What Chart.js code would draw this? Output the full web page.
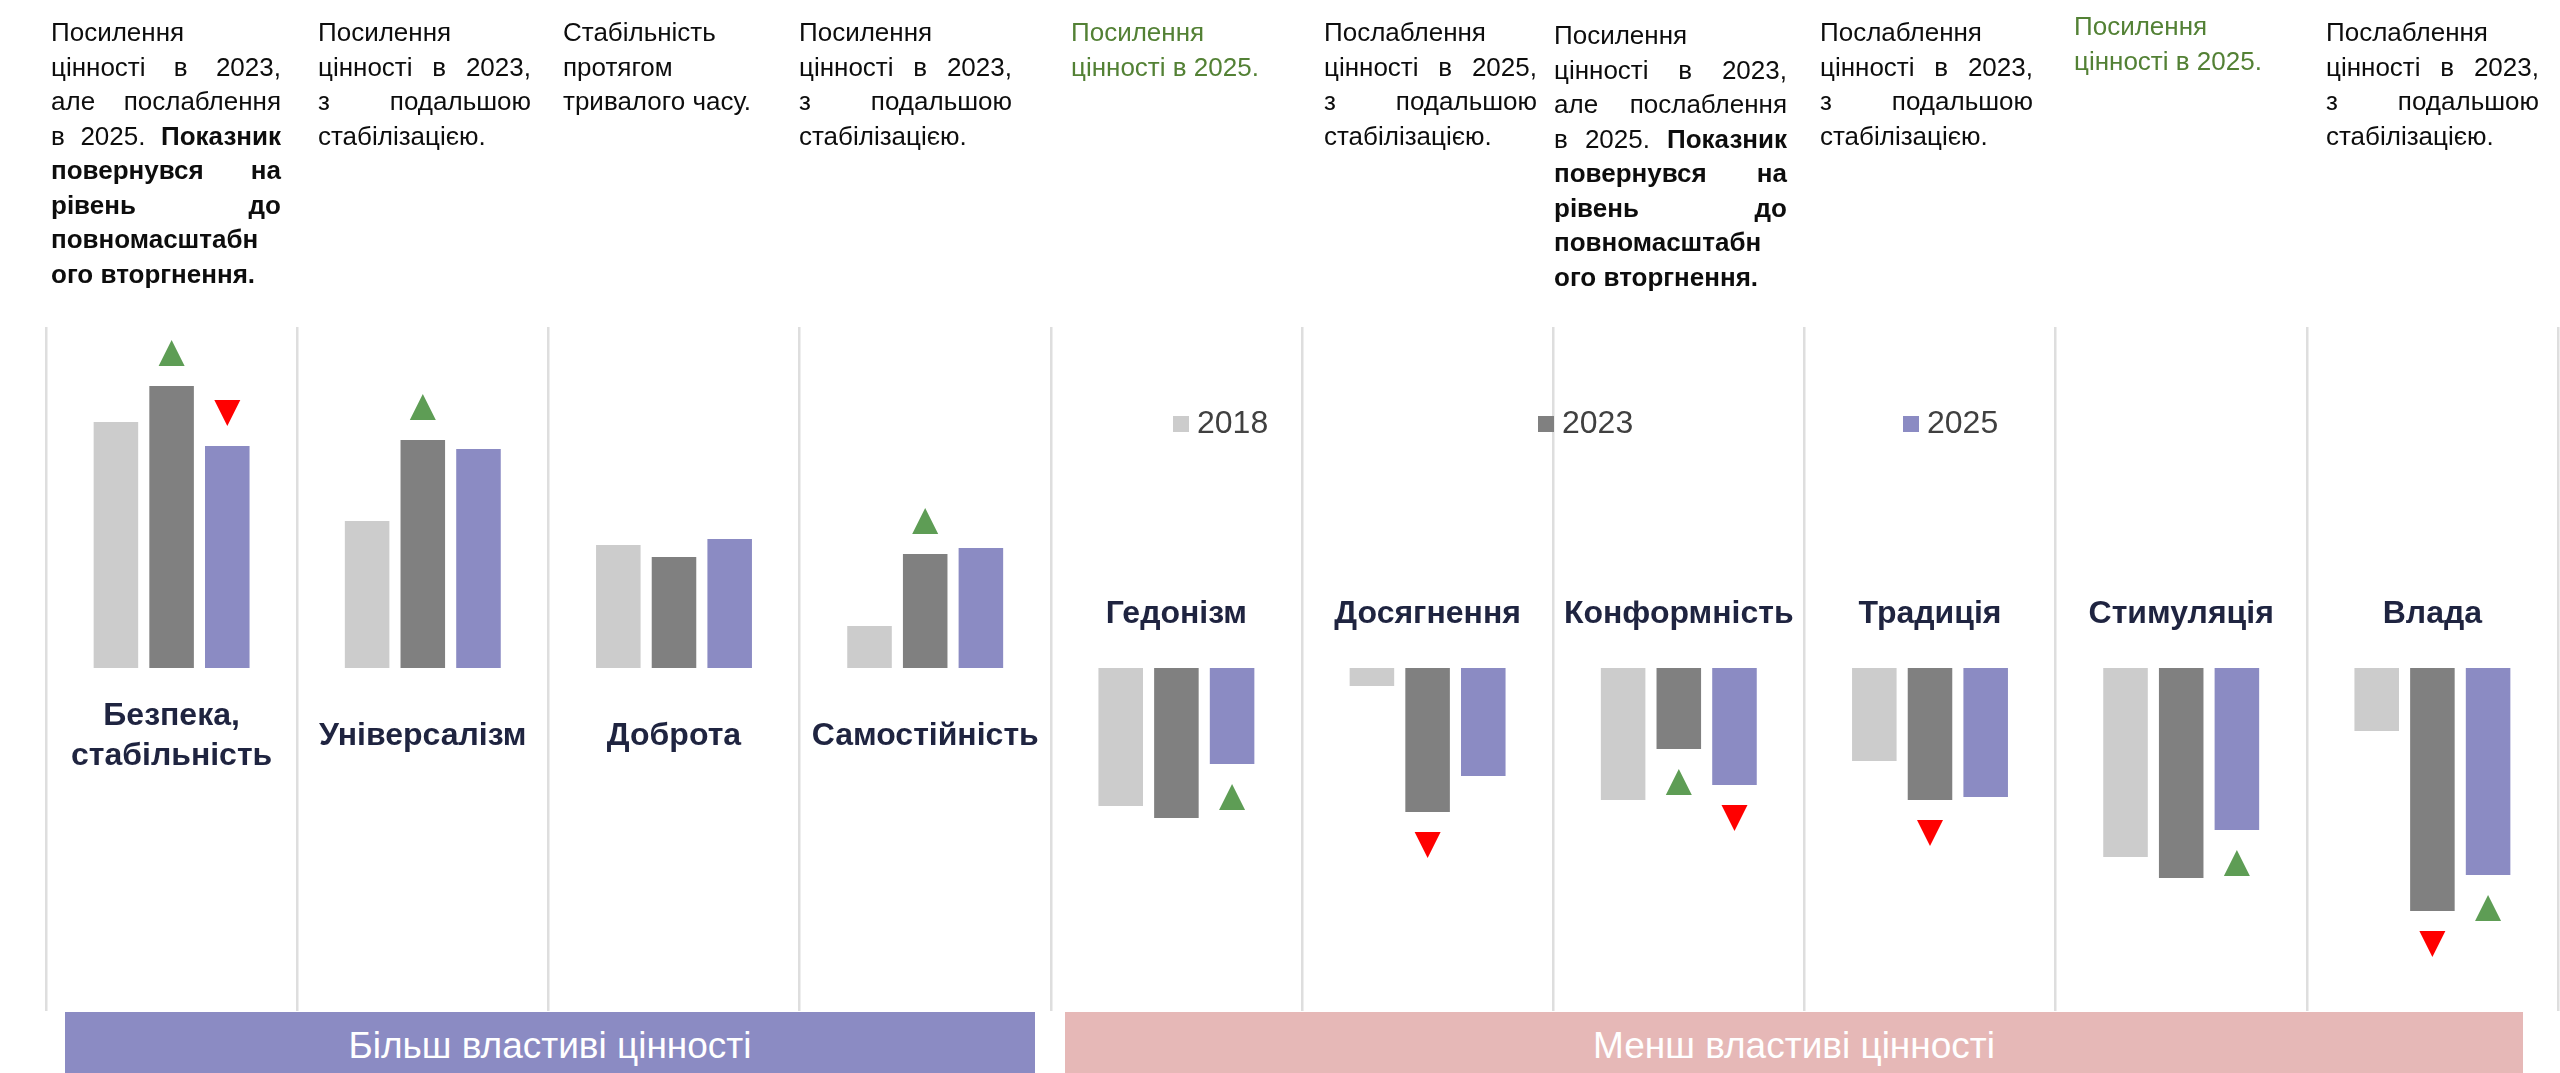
<!DOCTYPE html>
<html lang="uk">
<head>
<meta charset="utf-8">
<title>Цінності: 2018, 2023, 2025</title>
<script src="https://cdn.jsdelivr.net/npm/chart.js@4.4.1/dist/chart.umd.min.js"></script>
<style>
  html, body { margin: 0; padding: 0; background: #fff; }
  #wrap { position: relative; width: 2560px; height: 1073px; overflow: hidden; }
  #chart { position: absolute; left: 0; top: 0; }
  .note {
    position: absolute;
    font-family: 'Liberation Sans', Arial, sans-serif;
    font-size: 26px;
    line-height: 34.5px;
    color: #0d0d0d;
  }
  .note.green { color: #538135; }
  .row { display: flex; justify-content: space-between; white-space: nowrap; }
  .row.last { display: block; }
  .band {
    position: absolute;
    top: 1012px;
    height: 61px;
    color: #fff;
    font-family: 'Liberation Sans', Arial, sans-serif;
    font-size: 37px;
    line-height: 68px;
    text-align: center;
    white-space: nowrap;
  }
</style>
</head>
<body>
<div id="wrap">
  <canvas id="chart" width="2560" height="1073"></canvas>
</div>
<script>
// values (centred scores)
const categories = [['Безпека,', 'стабільність'], 'Універсалізм', 'Доброта', 'Самостійність',
  'Гедонізм', 'Досягнення', 'Конформність', 'Традиція', 'Стимуляція', 'Влада'];
const seriesLabels = ['2018', '2023', '2025'];
const values2018 = [0.82, 0.49, 0.41, 0.14, -0.46, -0.06, -0.44, -0.31, -0.63, -0.21];
const values2023 = [0.94, 0.76, 0.37, 0.38, -0.50, -0.48, -0.27, -0.44, -0.70, -0.81];
const values2025 = [0.74, 0.73, 0.43, 0.40, -0.32, -0.36, -0.39, -0.43, -0.54, -0.69];
// significant change vs previous wave: 1 up, -1 down, 0 none
const change2023 = [1, 1, 0, 1, 0, -1, 1, -1, 0, -1];
const change2025 = [-1, 0, 0, 0, 1, 0, -1, 0, 1, 1];
const groupLabels = ['Більш властиві цінності', 'Менш властиві цінності'];

// text boxes above each column; [ ... ] marks bold words
const notes = [
  ['Посилення', 'цінності в 2023,', 'але послаблення', 'в 2025. [Показник]', '[повернувся на]', '[рівень до]', '[повномасштабн]', '[ого вторгнення.]'],
  ['Посилення', 'цінності в 2023,', 'з подальшою', 'стабілізацією.'],
  ['Стабільність', 'протягом', 'тривалого часу.'],
  ['Посилення', 'цінності в 2023,', 'з подальшою', 'стабілізацією.'],
  ['Посилення', 'цінності в 2025.'],
  ['Послаблення', 'цінності в 2025,', 'з подальшою', 'стабілізацією.'],
  ['Посилення', 'цінності в 2023,', 'але послаблення', 'в 2025. [Показник]', '[повернувся на]', '[рівень до]', '[повномасштабн]', '[ого вторгнення.]'],
  ['Послаблення', 'цінності в 2023,', 'з подальшою', 'стабілізацією.'],
  ['Посилення', 'цінності в 2025.'],
  ['Послаблення', 'цінності в 2023,', 'з подальшою', 'стабілізацією.']
];
const greenNotes = [4, 8];

const colors = ['#cccccc', '#808080', '#8b8bc3'];
const upColor = '#5e9d55';
const downColor = '#ff0000';

// --- text boxes (layout only) ---
const noteLeft = [51, 318, 563, 799, 1071, 1324, 1554, 1820, 2074, 2326];
const noteWidth = [230, 213, 213, 213, 213, 213, 233, 213, 213, 213];
const noteTop = [15, 15, 15, 15, 15, 15, 18, 15, 9, 15];
const wrap = document.getElementById('wrap');

notes.forEach((lines, i) => {
  const box = document.createElement('div');
  box.className = 'note' + (greenNotes.includes(i) ? ' green' : '');
  box.style.left = noteLeft[i] + 'px';
  box.style.top = noteTop[i] + 'px';
  box.style.width = noteWidth[i] + 'px';
  lines.forEach((line, k) => {
    const row = document.createElement('div');
    const last = k === lines.length - 1;
    row.className = last ? 'row last' : 'row';
    let bold = false;
    const words = line.split(' ');
    words.forEach((w, n) => {
      if (w.startsWith('[')) { bold = true; w = w.slice(1); }
      let close = false;
      if (w.endsWith(']')) { close = true; w = w.slice(0, -1); }
      const s = document.createElement('span');
      s.textContent = w;
      if (bold) s.style.fontWeight = 'bold';
      row.appendChild(s);
      if (last && n < words.length - 1) row.appendChild(document.createTextNode(' '));
      if (close) bold = false;
    });
    box.appendChild(row);
  });
  wrap.appendChild(box);
});

[[65, 970, '#8b8bc3'], [1065, 1458, '#e6b8b7']].forEach(([left, width, bg], i) => {
  const band = document.createElement('div');
  band.className = 'band';
  band.style.left = left + 'px';
  band.style.width = width + 'px';
  band.style.background = bg;
  band.textContent = groupLabels[i];
  wrap.appendChild(band);
});

// --- decorations drawn on the chart ---
const decor = {
  id: 'decor',
  afterDatasetsDraw(chart) {
    const ctx = chart.ctx;
    const x = chart.scales.x;
    const y = chart.scales.y;
    const zero = y.getPixelForValue(0);

    // change markers
    const tw = 26, th = 26, gap = 20;
    [[1, change2023], [2, change2025]].forEach(([ds, changes]) => {
      const meta = chart.getDatasetMeta(ds);
      const data = chart.data.datasets[ds].data;
      meta.data.forEach((bar, i) => {
        const c = changes[i];
        if (!c) return;
        const cx = bar.x;
        const cy = data[i] >= 0 ? bar.y - gap - th / 2 : bar.y + gap + th / 2;
        ctx.save();
        ctx.fillStyle = c > 0 ? upColor : downColor;
        ctx.beginPath();
        if (c > 0) {
          ctx.moveTo(cx, cy - th / 2);
          ctx.lineTo(cx + tw / 2, cy + th / 2);
          ctx.lineTo(cx - tw / 2, cy + th / 2);
        } else {
          ctx.moveTo(cx, cy + th / 2);
          ctx.lineTo(cx + tw / 2, cy - th / 2);
          ctx.lineTo(cx - tw / 2, cy - th / 2);
        }
        ctx.closePath();
        ctx.fill();
        ctx.restore();
      });
    });

    // category names
    ctx.save();
    ctx.font = 'bold 32px "Liberation Sans", Arial, sans-serif';
    ctx.fillStyle = '#1f2440';
    ctx.textAlign = 'center';
    ctx.textBaseline = 'middle';
    categories.forEach((label, i) => {
      const lines = Array.isArray(label) ? label : [label];
      const cx = x.getPixelForValue(i);
      const cy = values2018[i] >= 0 ? zero + 68 : zero - 54;
      const lh = 40;
      lines.forEach((ln, k) => {
        ctx.fillText(ln, cx, cy + (k - (lines.length - 1) / 2) * lh);
      });
    });
    ctx.restore();

    // legend
    ctx.save();
    ctx.font = '32px "Liberation Sans", Arial, sans-serif';
    ctx.textBaseline = 'middle';
    ctx.textAlign = 'left';
    chart.data.datasets.forEach((ds, i) => {
      const lx = 1173 + i * 365;
      const ly = 424;
      ctx.fillStyle = ds.backgroundColor;
      ctx.fillRect(lx, ly - 8, 16, 16);
      ctx.fillStyle = '#404040';
      ctx.fillText(ds.label, lx + 24, ly);
    });
    ctx.restore();
  }
};

new Chart(document.getElementById('chart'), {
  type: 'bar',
  data: {
    labels: categories,
    datasets: [values2018, values2023, values2025].map((vals, i) => ({
      label: seriesLabels[i],
      data: vals,
      backgroundColor: colors[i],
      borderWidth: 0,
      categoryPercentage: 0.665,
      barPercentage: 0.8
    }))
  },
  options: {
    responsive: false,
    animation: false,
    devicePixelRatio: 1,
    events: [],
    layout: { padding: { top: 327, bottom: 62, left: 46, right: 2 } },
    plugins: {
      legend: { display: false },
      tooltip: { enabled: false }
    },
    scales: {
      x: {
        ticks: { display: false },
        border: { display: false },
        grid: { offset: true, color: '#dedede', lineWidth: 2.5, drawTicks: false }
      },
      y: {
        display: false,
        min: -1.143,
        max: 1.137
      }
    }
  },
  plugins: [decor]
});
</script>
</body>
</html>
